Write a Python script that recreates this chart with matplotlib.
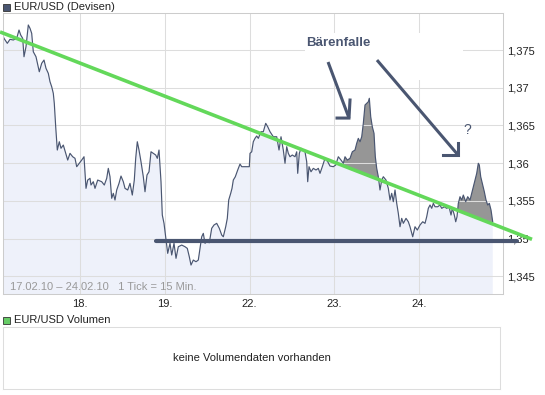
import numpy as np
import matplotlib
matplotlib.use("Agg")
import matplotlib.pyplot as plt
from matplotlib.patches import Rectangle

plt.rcParams['font.family'] = ['Liberation Sans', 'DejaVu Sans']

# ---- data (x = trading-day position: 1 -> 18., 2 -> 19., 3 -> 22., 4 -> 23., 5 -> 24.) ----
t = [0.0767, 0.1038, 0.1427, 0.1745, 0.2134, 0.2535, 0.2807, 0.3007, 0.3243, 0.3396,
     0.3632, 0.3903, 0.4104, 0.4304, 0.4493, 0.4811, 0.5200, 0.5483, 0.5755, 0.5991,
     0.6262, 0.6462, 0.6663, 0.6851, 0.6969, 0.7134, 0.7323, 0.7559, 0.7759, 0.8031,
     0.8314, 0.8550, 0.8821, 0.9139, 0.9410, 0.9611, 0.9917, 1.0200, 1.0472, 1.0708,
     1.0908, 1.1179, 1.1297, 1.1568, 1.1769, 1.2087, 1.2559, 1.2866, 1.3149, 1.3337,
     1.3538, 1.3738, 1.3927, 1.4127, 1.4328, 1.4599, 1.4835, 1.5106, 1.5307, 1.5625,
     1.5896, 1.6167, 1.6403, 1.6568, 1.6757, 1.6958, 1.7193, 1.7465, 1.7665, 1.7901,
     1.8137, 1.8373, 1.8644, 1.8927, 1.9116, 1.9316, 1.9552, 1.9705, 1.9906, 2.0106,
     2.0342, 2.0613, 2.0814, 2.1085, 2.1321, 2.1592, 2.1993, 2.2382, 2.2653, 2.2889,
     2.3090, 2.3361, 2.3679, 2.3950, 2.4151, 2.4351, 2.4540, 2.4741, 2.4941, 2.5248,
     2.5531, 2.5802, 2.6120, 2.6427, 2.6710, 2.6899, 2.7182, 2.7370, 2.7535, 2.7771,
     2.7925, 2.8078, 2.8314, 2.8597, 2.8868, 2.9068, 2.9458, 2.9965, 3.0047, 3.0248,
     3.0436, 3.0637, 3.0837, 3.1026, 3.1344, 3.1616, 3.1899, 3.2134, 3.2406, 3.2795,
     3.3196, 3.3467, 3.3703, 3.3974, 3.4175, 3.4375, 3.4564, 3.4764, 3.5035, 3.5354,
     3.5554, 3.5672, 3.5861, 3.6061, 3.6333, 3.6533, 3.6733, 3.6851, 3.7005, 3.7241,
     3.7512, 3.7830, 3.8101, 3.8302, 3.8573, 3.8892, 3.9210, 3.9481, 3.9870, 4.0153,
     4.0460, 4.0778, 4.1050, 4.1250, 4.1521, 4.1840, 4.2111, 4.2429, 4.2630, 4.2818,
     4.3019, 4.3219, 4.3408, 4.3608, 4.3809, 4.3998, 4.4116, 4.4281, 4.4469, 4.4670,
     4.4823, 4.4988, 4.5177, 4.5377, 4.5578, 4.5767, 4.6085, 4.6356, 4.6557, 4.6757,
     4.6946, 4.7146, 4.7347, 4.7535, 4.7736, 4.7936, 4.8125, 4.8443, 4.8715, 4.8915,
     4.9233, 4.9505, 4.9776, 5.0094, 5.0413, 5.0684, 5.0884, 5.1073, 5.1274, 5.1474,
     5.1663, 5.1863, 5.2182, 5.2453, 5.2653, 5.2960, 5.3243, 5.3514, 5.3750, 5.3903,
     5.4139, 5.4304, 5.4458, 5.4611, 5.4811, 5.5012, 5.5201, 5.5483, 5.5719, 5.5991,
     5.6191, 5.6380, 5.6580, 5.6781, 5.6969, 5.7087, 5.7252, 5.7441, 5.7677, 5.7877,
     5.8078, 5.8267, 5.8467, 5.8667]

price = [1.37729, 1.37655, 1.37589, 1.37642, 1.37633, 1.37655, 1.37765, 1.37699, 1.37655, 1.37411,
         1.37544, 1.37832, 1.37788, 1.37721, 1.37477, 1.37411, 1.37212, 1.37324, 1.37367, 1.37257,
         1.37191, 1.37080, 1.37013, 1.36926, 1.36793, 1.36483, 1.36174, 1.36284, 1.36197, 1.36240,
         1.36130, 1.36041, 1.36130, 1.36085, 1.36064, 1.35953, 1.35998, 1.36041, 1.36085, 1.35666,
         1.35776, 1.35799, 1.35710, 1.35754, 1.35666, 1.35776, 1.35754, 1.35710, 1.35799, 1.35931,
         1.35820, 1.35534, 1.35600, 1.35511, 1.35644, 1.35732, 1.35829, 1.35754, 1.35666, 1.35644,
         1.35732, 1.35577, 1.35776, 1.36064, 1.36284, 1.36174, 1.36019, 1.35820, 1.35621, 1.35843,
         1.35886, 1.36151, 1.36130, 1.36108, 1.36064, 1.36174, 1.35754, 1.35312, 1.35202, 1.35024,
         1.34804, 1.34937, 1.34782, 1.34937, 1.34738, 1.34892, 1.34914, 1.34892, 1.34870, 1.34759,
         1.34649, 1.34715, 1.34693, 1.34715, 1.34870, 1.35024, 1.35069, 1.34937, 1.34958, 1.34945,
         1.35136, 1.35180, 1.35202, 1.35136, 1.35047, 1.35024, 1.35157, 1.35268, 1.35511, 1.35600,
         1.35666, 1.35776, 1.35820, 1.35909, 1.35988, 1.35953, 1.35953, 1.35953, 1.36130, 1.36151,
         1.36284, 1.36329, 1.36360, 1.36329, 1.36417, 1.36417, 1.36528, 1.36483, 1.36417, 1.36350,
         1.36350, 1.36174, 1.36350, 1.36174, 1.35998, 1.36218, 1.36130, 1.36085, 1.36108, 1.36085,
         1.36151, 1.35865, 1.36130, 1.36197, 1.36174, 1.36151, 1.36019, 1.35754, 1.35953, 1.35886,
         1.35931, 1.35909, 1.35931, 1.35865, 1.35953, 1.36064, 1.36019, 1.35962, 1.35953, 1.35975,
         1.36085, 1.36041, 1.35998, 1.36085, 1.36041, 1.36064, 1.36151, 1.36174, 1.36263, 1.36329,
         1.36284, 1.36350, 1.36528, 1.36771, 1.36793, 1.36814, 1.36860, 1.36616, 1.36483, 1.36395,
         1.36085, 1.35931, 1.35820, 1.35644, 1.35776, 1.35820, 1.35776, 1.35666, 1.35511, 1.35600,
         1.35489, 1.35644, 1.35467, 1.35335, 1.35157, 1.35268, 1.35202, 1.35268, 1.35223, 1.35157,
         1.35024, 1.35157, 1.35113, 1.35180, 1.35223, 1.35202, 1.35290, 1.35401, 1.35445, 1.35401,
         1.35467, 1.35422, 1.35422, 1.35445, 1.35401, 1.35422, 1.35401, 1.35422, 1.35312, 1.35401,
         1.35312, 1.35223, 1.35290, 1.35467, 1.35555, 1.35511, 1.35577, 1.35489, 1.35555, 1.35511,
         1.35600, 1.35687, 1.35776, 1.35865, 1.35998, 1.35975, 1.35820, 1.35732, 1.35621, 1.35511,
         1.35445, 1.35467, 1.35378, 1.35223]

day_ticks = [1, 2, 3, 4, 5]
day_labels = ['18.', '19.', '22.', '23.', '24.']
y_ticks = [1.345, 1.35, 1.355, 1.36, 1.365, 1.37, 1.375]
y_labels = ['1,345', '1,35', '1,355', '1,36', '1,365', '1,37', '1,375']

trend_t = [0.057, 6.33]
trend_p = [1.3774, 1.3499]
support_t = [1.896, 6.153]
support_p = [1.34967, 1.34967]
trap_windows = [(4.12, 4.52), (5.44, 5.87)]

arrow1_shaft_t = [3.925, 4.172]
arrow1_shaft_p = [1.37341, 1.36598]
arrow1_head_t = [4.031, 4.172, 4.184]
arrow1_head_p = [1.36598, 1.36598, 1.36837]
arrow2_shaft_t = [4.502, 5.458]
arrow2_shaft_p = [1.37367, 1.36108]
arrow2_head_t = [5.281, 5.458, 5.458]
arrow2_head_p = [1.36108, 1.36108, 1.36267]

DARK = '#4a5671'
GREEN = '#63d85a'

fig = plt.figure(figsize=(5.45, 3.95), dpi=100)
W, H = 545.0, 395.0

ax = fig.add_axes([3 / W, 1 - 294 / H, 500 / W, 281 / H])
ax.set_xlim(0.092, 5.988)
ax.set_ylim(1.34265, 1.37991)

t_arr = np.array(t)
p_arr = np.array(price)
trend_at = np.interp(t_arr, trend_t, trend_p)

ax.fill_between(t_arr, p_arr, 1.3, color='#eef1fa', lw=0, zorder=0.8)
in_win = np.zeros_like(t_arr, dtype=bool)
for a, b in trap_windows:
    in_win |= (t_arr >= a) & (t_arr <= b)
ax.fill_between(t_arr, p_arr, trend_at, where=in_win & (p_arr >= trend_at),
                interpolate=True, color='#969696', lw=0, zorder=1.0)

ax.set_axisbelow('line')
ax.set_xticks(day_ticks)
ax.set_xticklabels(day_labels)
ax.set_yticks(y_ticks)
ax.set_yticklabels(y_labels)
ax.grid(True, color='#dddddd', lw=0.75)
ax.yaxis.tick_right()
ax.tick_params(axis='both', length=0, labelsize=8, colors='#222222')
ax.tick_params(axis='x', pad=3.5)
ax.tick_params(axis='y', pad=3)
for s in ax.spines.values():
    s.set_color('#cccccc')
    s.set_linewidth(0.75)

# white box behind annotation
ax.add_patch(Rectangle((3.653, 1.37102), 5.516 - 3.653, 1.37725 - 1.37102,
                       fc='white', ec='none', zorder=1.6))

ax.plot(t_arr, p_arr, color=DARK, lw=0.85, zorder=2)
ax.plot(trend_t, trend_p, color=GREEN, lw=2.6, zorder=5, clip_on=False,
        solid_capstyle='butt')
ax.plot(support_t, support_p, color=DARK, lw=3.0, zorder=6, clip_on=False,
        solid_capstyle='round')

for st, sp, ht, hp in [(arrow1_shaft_t, arrow1_shaft_p, arrow1_head_t, arrow1_head_p),
                       (arrow2_shaft_t, arrow2_shaft_p, arrow2_head_t, arrow2_head_p)]:
    ax.plot(st, sp, color=DARK, lw=2.2, zorder=4, solid_capstyle='butt')
    ax.plot(ht, hp, color=DARK, lw=2.2, zorder=4, solid_joinstyle='miter')

ax.text(4.042, 1.37593, 'Bärenfalle', ha='center', va='center', fontsize=9.5,
        fontweight='bold', color=DARK, zorder=4)
ax.text(5.564, 1.36439, '?', ha='center', va='center', fontsize=10, color=DARK, zorder=4)

ax.text(7 / 500, 7 / 281, '17.02.10 \u2013 24.02.10   1 Tick = 15 Min.', transform=ax.transAxes,
        ha='left', va='center', fontsize=8, color='#999999', zorder=3)

# headers
fig.add_artist(Rectangle((3 / W, 1 - 11 / H), 7 / W, 7 / H, transform=fig.transFigure,
                         fc=DARK, ec='#333333', lw=0.6))
fig.text(14 / W, 1 - 7 / H, 'EUR/USD (Devisen)', ha='left', va='center', fontsize=8,
         color='#222222')
fig.add_artist(Rectangle((3 / W, 1 - 324 / H), 7 / W, 7 / H, transform=fig.transFigure,
                         fc='#66cc66', ec='#333333', lw=0.6))
fig.text(14 / W, 1 - 320 / H, 'EUR/USD Volumen', ha='left', va='center', fontsize=8,
         color='#222222')

vax = fig.add_axes([3 / W, 1 - 389 / H, 497 / W, 62 / H])
vax.set_xticks([])
vax.set_yticks([])
for s in vax.spines.values():
    s.set_color('#dddddd')
    s.set_linewidth(0.75)
vax.text(0.5, 0.5, 'keine Volumendaten vorhanden', transform=vax.transAxes,
         ha='center', va='center', fontsize=8, color='#222222')

fig.savefig('out.png', dpi=100)
